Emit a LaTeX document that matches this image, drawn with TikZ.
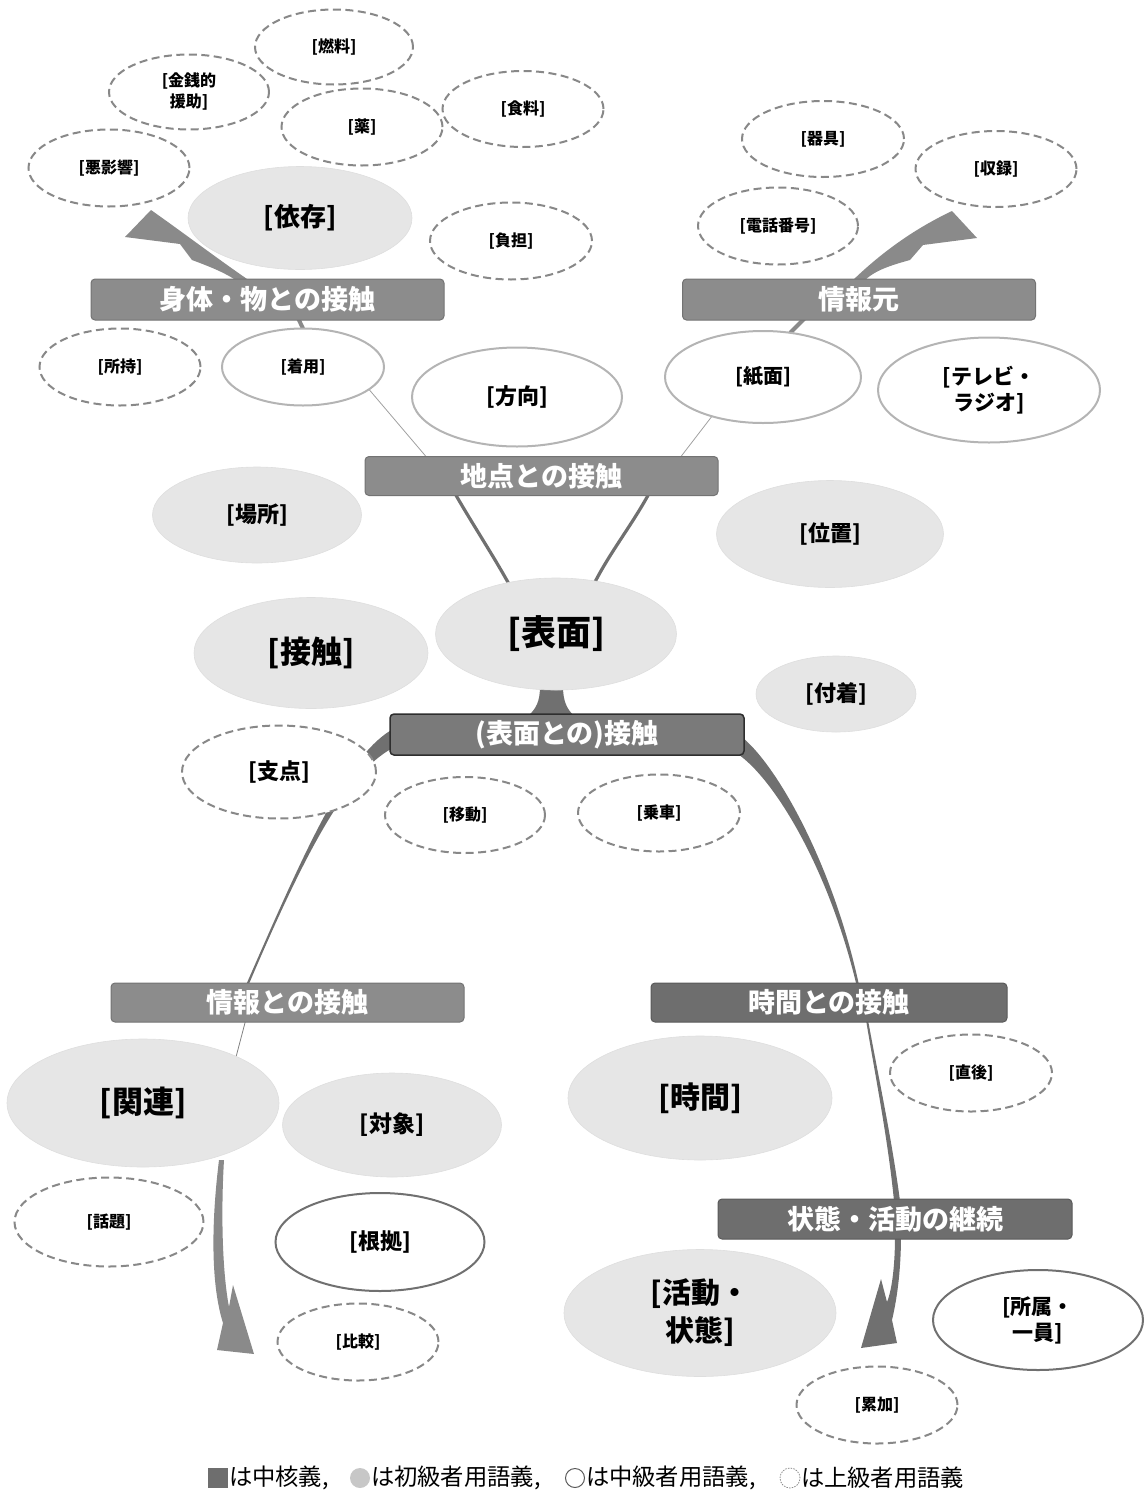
\documentclass[tikz,border=0pt]{standalone}
\usepackage{fontspec}
\setmainfont{Noto Sans CJK JP}
\usetikzlibrary{calc,backgrounds,shapes.geometric}
\newcommand\fsz[2]{\fontsize{#1}{#2}\selectfont}
\definecolor{boxA}{HTML}{8C8C8C}
\definecolor{boxAline}{HTML}{737373}
\definecolor{boxB}{HTML}{6E6E6E}
\definecolor{boxBline}{HTML}{5A5A5A}
\definecolor{boxC}{HTML}{7A7A7A}
\definecolor{boxCline}{HTML}{2E2E2E}
\definecolor{begfill}{HTML}{E6E6E6}
\definecolor{begline}{HTML}{DEDEDE}
\definecolor{midline}{HTML}{B4B4B4}
\definecolor{middark}{HTML}{707070}
\definecolor{advline}{HTML}{888888}
\definecolor{conA}{HTML}{8A8A8A}
\definecolor{conB}{HTML}{707070}
\definecolor{thinlink}{HTML}{A0A0A0}
\begin{document}
\begin{tikzpicture}[x=1pt,y=-1pt,
  every node/.style={inner sep=0pt,outer sep=0pt},
  core/.style={rectangle,rounded corners=4pt,minimum width=353,minimum height=40,
    text=white,font=\bfseries\fsz{27}{31},line width=1pt},
  coreA/.style={core,fill=boxA,draw=boxAline},
  coreB/.style={core,fill=boxB,draw=boxBline},
  coreC/.style={core,fill=boxC,draw=boxCline,line width=1.5pt},
  beg/.style={ellipse,fill=begfill,draw=begline,line width=0.6pt,align=center},
  mid/.style={ellipse,fill=white,draw=midline,line width=2pt,align=center},
  midd/.style={ellipse,fill=white,draw=middark,line width=2pt,align=center},
  adv/.style={ellipse,fill=white,draw=advline,line width=2pt,
    dash pattern=on 8pt off 4.5pt,align=center},
  s16/.style={font=\bfseries\fsz{16}{21}},
  sz/.style={font=\bfseries\fsz{#1}{#1}},
  legtext/.style={anchor=west,font=\fsz{23.3}{26}}
]
\useasboundingbox (0,0) rectangle (1145,1494);

% ---------- category boxes ----------
\node[coreA,minimum height=41] (shintai) at (267.5,299.5) {身体・物との接触};
\node[coreA,minimum height=41] (jouhougen) at (859,299.5) {情報元};
\node[coreA,minimum height=39] (chiten) at (541.5,476) {地点との接触};
\node[coreC,minimum width=354,minimum height=41] (hyomensesshoku) at (567,734.5) {(表面との)接触};
\node[coreA,minimum height=39] (jouhou) at (287.5,1002.5) {情報との接触};
\node[coreB,minimum width=356,minimum height=39] (jikan) at (829,1002.5) {時間との接触};
\node[coreB,minimum width=354,minimum height=40] (keizoku) at (895,1219) {状態・活動の継続};

% ---------- sense ellipses ----------
\node[adv,s16,minimum width=158,minimum height=75] (nenryo) at (334,47) {[燃料]};
\node[adv,s16,minimum width=160,minimum height=75] (kinsen) at (189,92) {[金銭的\\援助]};
\node[adv,s16,minimum width=161,minimum height=77] (kusuri) at (362,127) {[薬]};
\node[adv,s16,minimum width=161,minimum height=76] (shokuryo) at (523,109) {[食料]};
\node[adv,s16,minimum width=161,minimum height=77] (akueikyo) at (109,168) {[悪影響]};
\node[beg,sz=26,minimum width=224,minimum height=103] (izon) at (300,218) {[依存]};
\node[adv,s16,minimum width=162,minimum height=77] (futan) at (511,241) {[負担]};
\node[adv,s16,minimum width=162,minimum height=76] (kigu) at (823,139) {[器具]};
\node[adv,s16,minimum width=161,minimum height=76] (shuroku) at (996,169) {[収録]};
\node[adv,s16,minimum width=160,minimum height=77] (denwa) at (778,226) {[電話番号]};
\node[adv,s16,minimum width=161,minimum height=77] (shoji) at (120,367) {[所持]};
\node[mid,s16,minimum width=162,minimum height=77] (chakuyo) at (303,367) {[着用]};
\node[mid,sz=22,minimum width=210,minimum height=99] (houkou) at (517,397) {[方向]};
\node[mid,sz=20,minimum width=196,minimum height=92] (shimen) at (763,377) {[紙面]};
\node[mid,font=\bfseries\fsz{21}{26},minimum width=222,minimum height=105] (terebi) at (989,390) {[テレビ・\\ラジオ]};
\node[beg,sz=22,minimum width=209,minimum height=96] (basho) at (257,515) {[場所]};
\node[beg,sz=22,minimum width=227,minimum height=107] (ichi) at (830,534) {[位置]};
\node[beg,sz=35,minimum width=241,minimum height=112] (hyomen) at (556,634) {[表面]};
\node[beg,sz=31,minimum width=234,minimum height=111] (sesshoku) at (311,653) {[接触]};
\node[beg,sz=22,minimum width=160,minimum height=76] (fuchaku) at (836,694) {[付着]};
\node[adv,sz=22,minimum width=194,minimum height=93] (shiten) at (279,772) {[支点]};
\node[adv,s16,minimum width=160,minimum height=76] (idou) at (465,815) {[移動]};
\node[adv,s16,minimum width=162,minimum height=77] (jousha) at (659,813) {[乗車]};
\node[beg,sz=31,minimum width=272,minimum height=128] (kanren) at (143,1103) {[関連]};
\node[beg,sz=23,minimum width=219,minimum height=104] (taishou) at (392,1125) {[対象]};
\node[adv,s16,minimum width=189,minimum height=89] (wadai) at (109,1222) {[話題]};
\node[midd,sz=22,minimum width=209,minimum height=98] (konkyo) at (380,1242) {[根拠]};
\node[adv,s16,minimum width=161,minimum height=77] (hikaku) at (358,1342) {[比較]};
\node[beg,sz=30,minimum width=264,minimum height=124] (jikanE) at (700,1098) {[時間]};
\node[adv,s16,minimum width=162,minimum height=77] (chokugo) at (971,1073) {[直後]};
\node[beg,font=\bfseries\fsz{29}{38},minimum width=272,minimum height=127] (katsudou) at (700,1313) {[活動・\\状態]};
\node[midd,font=\bfseries\fsz{21}{26},minimum width=210,minimum height=100] (shozoku) at (1038,1320) {[所属・\\一員]};
\node[adv,s16,minimum width=161,minimum height=77] (ruika) at (877,1405) {[累加]};

% ---------- legend ----------
\node[rectangle,fill=boxB,minimum width=20,minimum height=20] (lgcore) at (218,1478) {};
\node[legtext] (ltcore) at (229,1478) {は中核義,};
\node[circle,fill=black!22,minimum size=20] (lgbeg) at (360,1478) {};
\node[legtext] (ltbeg) at (371,1478) {は初級者用語義,};
\node[circle,draw=black!65,line width=1pt,minimum size=19] (lgmid) at (575,1478) {};
\node[legtext] (ltmid) at (586,1478) {は中級者用語義,};
\node[circle,draw=black!45,line width=0.8pt,dash pattern=on 1.5pt off 1.2pt,minimum size=20] (lgadv) at (790,1478) {};
\node[legtext] (ltadv) at (801,1478) {は上級者用語義};

% ---------- connectors, behind everything ----------
\begin{pgfonlayer}{background}
  % thin links to the place box
  \draw[thinlink,line width=0.8pt] (chakuyo.center) ++(58,13) -- ($(chiten.north west)+(61,0)$);
  \draw[thinlink,line width=0.8pt] (shimen.center) ++(-47,34) -- ($(chiten.north west)+(316,0)$);
  % place box to the core surface
  \draw[conB,line width=3.2pt] ($(chiten.south west)+(90,-2)$) .. controls (470,520) and (496,560) .. (510,586);
  \draw[conB,line width=3.2pt] ($(chiten.south west)+(284,-2)$) .. controls (632,525) and (608,555) .. (593,586);
  % trunk from the surface to the contact box
  \fill[conB] (540,686) .. controls (540,702) and (536,709) .. (527,717)
     -- (575,717) .. controls (567,709) and (563,702) .. (563,686) -- cycle;
  % body/thing arrow
  \fill[conA] (250,281) .. controls (222,262) and (185,234) .. (151,210) -- (125,237)
     -- (180,244) -- (192,260) .. controls (208,266) and (224,272) .. (237,281) -- cycle;
  \draw[conA,line width=4pt] (shintai.south) ++(30,-3) -- (chakuyo.north);
  % information source arrow
  \fill[conA] (852,281) .. controls (880,254) and (912,230) .. (952,211) -- (977,238)
     -- (923,245) -- (910,260) .. controls (892,265) and (875,270) .. (864,281) -- cycle;
  \draw[conA,line width=4pt] (jouhougen.south) ++(-53,-3) -- ($(shimen.north)+(27,2)$);
  % contact box to the information box
  \fill[conB] (395,728) .. controls (348,752) and (305,850) .. (246,985)
     -- (248.5,985) .. controls (304,855) and (349,767) .. (397,746) -- cycle;
  \draw[black!50,line width=0.8pt] ($(jouhou.south west)+(135,-3)$) -- ($(kanren.north)+(93,18)$);
  % contact box to the time box
  \fill[conB] (735,732) .. controls (772,755) and (832,860) .. (859,985)
     -- (856.5,985) .. controls (827,862) and (769,771) .. (733,751) -- cycle;
  \fill[conB] (866,1020) .. controls (876,1080) and (888,1140) .. (894,1201)
     -- (900,1201) .. controls (892,1140) and (879,1080) .. (868,1020) -- cycle;
  % lower arrows
  \fill[conA] (219,1160) .. controls (211,1225) and (211,1285) .. (223,1323) -- (217,1350)
     -- (254,1354) -- (233,1285) -- (229,1307) .. controls (222,1270) and (221,1210) .. (224,1160) -- cycle;
  \fill[conB] (895,1236) .. controls (895,1265) and (892,1290) .. (887,1302) -- (881,1279)
     -- (861,1348) -- (897,1343) -- (892,1320) .. controls (898,1295) and (901,1265) .. (901,1236) -- cycle;
\end{pgfonlayer}
\end{tikzpicture}
\end{document}
